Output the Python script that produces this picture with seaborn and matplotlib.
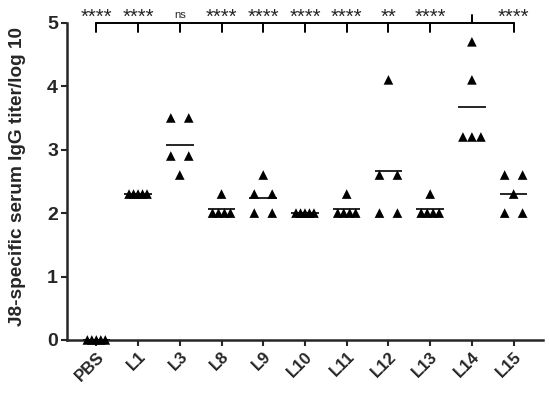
import numpy as np
import pandas as pd
import matplotlib
matplotlib.use("Agg")
import matplotlib.pyplot as plt
import seaborn as sns

# group labels and individual mouse titers (log10)
groups = ['PBS', 'L1', 'L3', 'L8', 'L9', 'L10', 'L11', 'L12', 'L13', 'L14', 'L15']
titers = {
    'PBS': [0, 0, 0, 0, 0],
    'L1': [2.3, 2.3, 2.3, 2.3, 2.3],
    'L3': [3.5, 3.5, 2.9, 2.9, 2.6],
    'L8': [2.3, 2.0, 2.0, 2.0, 2.0],
    'L9': [2.6, 2.3, 2.3, 2.0, 2.0],
    'L10': [2.0, 2.0, 2.0, 2.0, 2.0],
    'L11': [2.3, 2.0, 2.0, 2.0, 2.0],
    'L12': [4.1, 2.6, 2.6, 2.0, 2.0],
    'L13': [2.3, 2.0, 2.0, 2.0, 2.0],
    'L14': [4.7, 4.1, 3.2, 3.2, 3.2],
    'L15': [2.6, 2.6, 2.3, 2.0, 2.0],
}
# significance vs L14 (None = reference group)
sig_labels = ['****', '****', 'ns', '****', '****', '****', '****', '**', '****', None, '****']

sns.set_style("ticks")
plt.rcParams['font.family'] = ['Liberation Sans', 'DejaVu Sans']

# build long table, spreading identical values side by side
rows = []
for gi, g in enumerate(groups):
    vals = pd.Series(titers[g])
    for v, cnt in vals.value_counts(sort=False).items():
        offs = np.linspace(-0.215, 0.215, cnt) if cnt > 1 else [0.0]
        for o in offs:
            rows.append({'group': g, 'xpos': gi + o, 'titer': v})
df = pd.DataFrame(rows)

fig = plt.figure(figsize=(5.5, 3.93), dpi=100)
ax = fig.add_axes([0.122, 0.135, 0.865, 0.807])

sns.scatterplot(data=df, x='xpos', y='titer', marker='^', s=48, color='black',
                edgecolor='none', ax=ax, legend=False, clip_on=False, zorder=3)

means = [np.mean(titers[g]) for g in groups]
idx = np.arange(len(groups))
ax.hlines(means, idx - 0.33, idx + 0.33, color='black', lw=1.2, zorder=4)

ax.set_xlim(-0.7, 10.7)
ax.set_ylim(0, 5)
ax.set_yticks(range(0, 6))
ax.set_xticks(idx)
ax.set_xticklabels(groups, rotation=45, ha='right', rotation_mode='anchor',
                   fontweight='bold', fontsize=12)
for lab in ax.get_yticklabels():
    lab.set_fontweight('bold')
    lab.set_fontsize(14)
ax.set_xlabel('')
ax.set_ylabel('J8-specific serum IgG titer/log 10', fontweight='bold', fontsize=13.7)
ax.yaxis.set_label_coords(-0.087, 0.515)

sns.despine(ax=ax)
for sp in ['left', 'bottom']:
    ax.spines[sp].set_linewidth(1.8)
ax.tick_params(axis='both', width=1.5, length=4.5, pad=2)

# significance bracket along the top
ax.plot([idx[0], idx[-1]], [5, 5], color='black', lw=1.4, clip_on=False)
for i, lab in zip(idx, sig_labels):
    if lab is None:
        ax.plot([i, i], [5, 5.13], color='black', lw=1.4, clip_on=False)
        continue
    ax.plot([i, i], [5, 4.86], color='black', lw=1.4, clip_on=False)
    fs = 8 if lab == 'ns' else 14.5
    ax.text(i, 5.09 if lab != 'ns' else 5.12, lab, ha='center', va='center',
            fontsize=fs, clip_on=False)

fig.savefig('out.png', dpi=100)
